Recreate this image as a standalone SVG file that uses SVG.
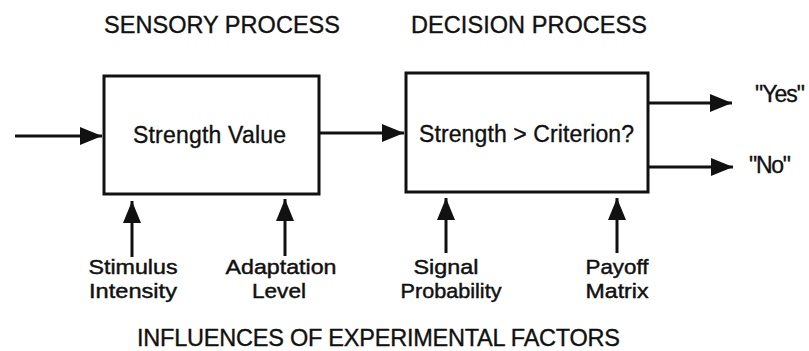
<svg xmlns="http://www.w3.org/2000/svg" width="809" height="351" viewBox="0 0 809 351">
  <style>
    text { font-family: "Liberation Sans", Arial, Helvetica, sans-serif; fill: #111; stroke: #111; stroke-width: 0.35; }
    .title { font-size: 23.5px; }
    .label { font-size: 23px; }
    .small { font-size: 20.5px; stroke-width: 0.45; }
    .box { fill: #fff; stroke: #111; stroke-width: 3; }
    .conn { stroke: #111; stroke-width: 3; fill: none; }
  </style>
  <defs>
    <marker id="arrow" markerUnits="userSpaceOnUse" markerWidth="24" markerHeight="18" refX="22" refY="9" orient="auto">
      <path d="M0,0 L22,9 L0,18 Z" fill="#111"/>
    </marker>
  </defs>
  <rect width="809" height="351" fill="#fff"/>

  <g id="headings">
    <text class="title" x="104" y="33" textLength="236">SENSORY PROCESS</text>
    <text class="title" x="411" y="33" textLength="236">DECISION PROCESS</text>
    <text class="title" x="137" y="346" textLength="483">INFLUENCES OF EXPERIMENTAL FACTORS</text>
  </g>

  <g id="sensory">
    <rect class="box" x="104" y="76" width="215" height="118"/>
    <text class="label" x="133" y="143" textLength="153">Strength Value</text>
  </g>

  <g id="decision">
    <rect class="box" x="406" y="73" width="242" height="119"/>
    <text class="label" x="419" y="142" textLength="215">Strength &gt; Criterion?</text>
  </g>

  <g id="yes">
    <text class="label" x="755" y="102" textLength="50">"Yes"</text>
  </g>
  <g id="no">
    <text class="label" x="749" y="173" textLength="42">"No"</text>
  </g>

  <g id="stimulus">
    <text class="small" text-anchor="middle"><tspan x="133" y="274" textLength="89" lengthAdjust="spacingAndGlyphs">Stimulus</tspan><tspan x="133" y="298" textLength="88" lengthAdjust="spacingAndGlyphs">Intensity</tspan></text>
  </g>
  <g id="adaptation">
    <text class="small" text-anchor="middle"><tspan x="281" y="274" textLength="111" lengthAdjust="spacingAndGlyphs">Adaptation</tspan><tspan x="279" y="298" textLength="54" lengthAdjust="spacingAndGlyphs">Level</tspan></text>
  </g>
  <g id="signal">
    <text class="small" text-anchor="middle"><tspan x="446" y="274" textLength="65" lengthAdjust="spacingAndGlyphs">Signal</tspan><tspan x="451" y="298" textLength="101" lengthAdjust="spacingAndGlyphs">Probability</tspan></text>
  </g>
  <g id="payoff">
    <text class="small" text-anchor="middle"><tspan x="617" y="274" textLength="63" lengthAdjust="spacingAndGlyphs">Payoff</tspan><tspan x="617" y="298" textLength="63" lengthAdjust="spacingAndGlyphs">Matrix</tspan></text>
  </g>

  <g id="connectors">
    <line class="conn" x1="15" y1="136" x2="102" y2="136" marker-end="url(#arrow)"/>
    <line class="conn" x1="319" y1="133" x2="404" y2="133" marker-end="url(#arrow)"/>
    <line class="conn" x1="648" y1="103" x2="732" y2="103" marker-end="url(#arrow)"/>
    <line class="conn" x1="648" y1="167" x2="733" y2="167" marker-end="url(#arrow)"/>
    <line class="conn" x1="132" y1="257" x2="132" y2="201" marker-end="url(#arrow)"/>
    <line class="conn" x1="285" y1="256" x2="285" y2="199" marker-end="url(#arrow)"/>
    <line class="conn" x1="446" y1="253" x2="446" y2="198" marker-end="url(#arrow)"/>
    <line class="conn" x1="617" y1="253" x2="617" y2="198" marker-end="url(#arrow)"/>
  </g>
</svg>
